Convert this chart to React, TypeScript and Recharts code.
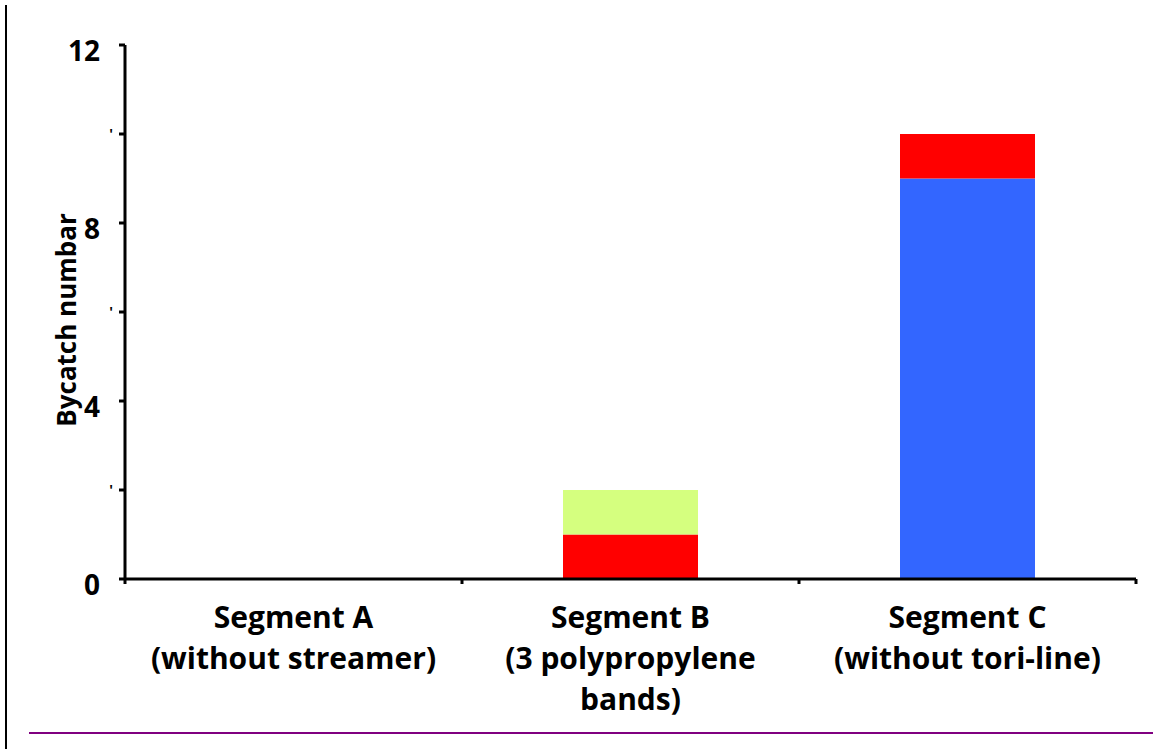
import React from 'react';
import { BarChart, Bar, XAxis, YAxis } from 'recharts';

const categories = ['Segment A', 'Segment B', 'Segment C'];
const categoryLines: string[][] = [
  ['Segment A', '(without streamer)'],
  ['Segment B', '(3 polypropylene', 'bands)'],
  ['Segment C', '(without tori-line)'],
];
const blueSeries = [0, 0, 9];
const redSeries = [0, 1, 1];
const greenSeries = [0, 1, 0];
const yTicks = [0, 2, 4, 6, 8, 10, 12];
const majorTicks = [0, 4, 8, 12];
const yTitle = 'Bycatch numbar';

const data = categories.map((c, i) => ({
  name: c,
  blue: blueSeries[i],
  red: redSeries[i],
  green: greenSeries[i],
}));

const FONT = "'Open Sans', 'Liberation Sans', sans-serif";

const XTick = (props: any) => {
  const { x, y, payload, index, width, visibleTicksCount } = props;
  const lines = categoryLines[index] || [String(payload.value)];
  const bw = width / visibleTicksCount;
  return (
    <g>
      <line x1={x - bw / 2} x2={x - bw / 2} y1={y} y2={y + 5} stroke="#000" strokeWidth={3} />
      {index === visibleTicksCount - 1 && (
        <line x1={x + bw / 2} x2={x + bw / 2} y1={y} y2={y + 5} stroke="#000" strokeWidth={3} />
      )}
      <text x={x} y={y} textAnchor="middle" fontFamily={FONT} fontWeight="bold" fontSize={30} fill="#000">
        {lines.map((l, i) => (
          <tspan key={i} x={x} dy={i === 0 ? 49 : 41}>
            {l}
          </tspan>
        ))}
      </text>
    </g>
  );
};

const YTick = (props: any) => {
  const { x, y, payload } = props;
  if (majorTicks.includes(payload.value)) {
    return (
      <text x={x} y={y + 6} dy="0.355em" textAnchor="end" fontFamily={FONT} fontWeight="bold" fontSize={28} fill="#000">
        {payload.value}
      </text>
    );
  }
  return (
    <text x={x + 13} y={y + 5} textAnchor="end" fontFamily={FONT} fontWeight="bold" fontSize={14} fill="#000">
      '
    </text>
  );
};

export default function App() {
  return (
    <div style={{ position: 'absolute', left: 0, top: 0, width: 1155, height: 749, background: '#fff' }}>
      <div style={{ position: 'absolute', left: 5, top: 5, width: 2, height: 744, background: '#000' }} />
      <div style={{ position: 'absolute', left: 29, top: 732, width: 1124, height: 2, background: '#800080' }} />
      <div style={{ position: 'absolute', left: 0, top: 0 }}>
        <BarChart
          width={1155}
          height={749}
          data={data}
          margin={{ top: 45, right: 19, bottom: 20, left: 0 }}
          barSize={135}
        >
          <XAxis
            dataKey="name"
            height={150}
            axisLine={{ stroke: '#000', strokeWidth: 3 }}
            tickLine={false}
            tickSize={0}
            tickMargin={0}
            interval={0}
            tick={<XTick />}
          />
          <YAxis
            width={125}
            domain={[0, 12]}
            ticks={yTicks}
            interval={0}
            allowDecimals={false}
            axisLine={{ stroke: '#000', strokeWidth: 3 }}
            tickLine={{ stroke: '#000', strokeWidth: 3 }}
            tickSize={6}
            tickMargin={19}
            tick={<YTick />}
            label={{
              value: yTitle,
              angle: -90,
              position: 'center',
              dx: 4,
              dy: 8,
              fontFamily: FONT,
              fontWeight: 'bold',
              fontSize: 26,
              fill: '#000',
            }}
          />
          <Bar dataKey="blue" stackId="a" fill="#3366FF" isAnimationActive={false} />
          <Bar dataKey="red" stackId="a" fill="#FF0000" isAnimationActive={false} />
          <Bar dataKey="green" stackId="a" fill="#D5FF7F" isAnimationActive={false} />
        </BarChart>
      </div>
    </div>
  );
}
